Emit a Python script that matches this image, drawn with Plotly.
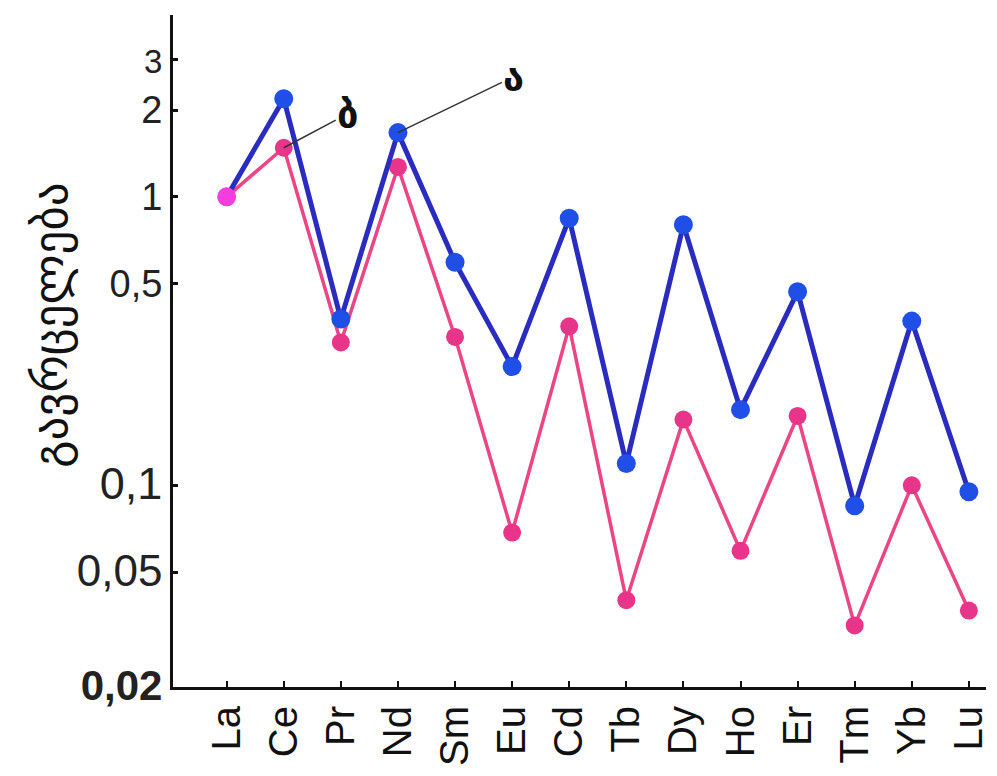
import numpy as np
import plotly.graph_objects as go

elements = ["La", "Ce", "Pr", "Nd", "Sm", "Eu", "Cd", "Tb", "Dy", "Ho", "Er", "Tm", "Yb", "Lu"]
series_a = [1.0, 2.19, 0.377, 1.67, 0.593, 0.258, 0.843, 0.119, 0.80, 0.183, 0.469, 0.085, 0.371, 0.095]
series_b = [1.0, 1.48, 0.313, 1.27, 0.327, 0.0686, 0.356, 0.040, 0.169, 0.0593, 0.174, 0.0327, 0.10, 0.0368]
y_tick_vals = [0.02, 0.05, 0.1, 0.5, 1, 2, 3]
y_tick_text = ["<b>0,02</b>", "0,05", "0,1", "0,5", "1", "2", "3"]
y_tick_sizes = [42, 44, 45, 38, 38, 38, 33]
label_a = "ა"
label_b = "ბ"
y_title = "გავრცელება"

BLUE_LINE = "#2a2cc0"
BLUE_MARK = "#1f4fe6"
PINK_LINE = "#ec4585"
PINK_MARK = "#e8358a"
MAGENTA = "#f23ee0"

fig = go.Figure()

fig.add_trace(go.Scatter(
    x=elements, y=series_b, mode="lines+markers",
    line=dict(color=PINK_LINE, width=3.5),
    marker=dict(color=PINK_MARK, size=18, opacity=1, line=dict(width=0)),
    showlegend=False, cliponaxis=False,
))
a_colors = [MAGENTA] + [BLUE_MARK] * (len(elements) - 1)
a_sizes = [19] + [19] * (len(elements) - 1)
fig.add_trace(go.Scatter(
    x=elements, y=series_a, mode="lines+markers",
    line=dict(color=BLUE_LINE, width=5),
    marker=dict(color=a_colors, size=a_sizes, opacity=1, line=dict(width=0)),
    showlegend=False, cliponaxis=False,
))

ticktext = [f'<span style="font-size:{s}px">{t}</span>' for t, s in zip(y_tick_text, y_tick_sizes)]

fig.update_layout(
    width=997, height=776,
    margin=dict(l=173, r=7, t=15, b=89),
    paper_bgcolor="white", plot_bgcolor="white",
    font=dict(family="Liberation Sans, Arial, sans-serif", color="#111111"),
    xaxis=dict(
        type="category", range=[-0.94, 13.3],
        showline=True, linecolor="#111111", linewidth=3,
        ticks="inside", ticklen=6, tickwidth=2, tickcolor="#111111",
        tickangle=-90, tickfont=dict(size=40, family="Liberation Sans, Arial, sans-serif"),
        showgrid=False, zeroline=False,
    ),
    yaxis=dict(
        type="log", range=[np.log10(0.02), np.log10(4.27)],
        showline=True, linecolor="#111111", linewidth=3,
        ticks="inside", ticklen=5, tickwidth=3, tickcolor="#111111",
        tickvals=y_tick_vals, ticktext=ticktext,
        tickfont=dict(size=38, family="Liberation Sans, Arial, sans-serif", color="#222222"),
        showgrid=False, zeroline=False,
    ),
)

fig.add_annotation(
    x=elements[1], y=np.log10(series_b[1]), xref="x", yref="y",
    text=f"<b>{label_b}</b>", showarrow=True, arrowhead=0, arrowwidth=1.5, arrowcolor="#333333",
    ax=64, ay=-34, font=dict(size=38, family="DejaVu Sans", color="#111111"),
)
fig.add_annotation(
    x=elements[3], y=np.log10(series_a[3]), xref="x", yref="y",
    text=f"<b>{label_a}</b>", showarrow=True, arrowhead=0, arrowwidth=1.5, arrowcolor="#333333",
    ax=116, ay=-56, font=dict(size=38, family="DejaVu Sans", color="#111111"),
)
fig.add_annotation(
    x=-0.150, y=0.539, xref="paper", yref="paper",
    text=y_title, textangle=-90, showarrow=False,
    xanchor="center", yanchor="middle",
    font=dict(size=47, family="DejaVu Sans", color="#111111"),
)

fig.write_html("out.html")
